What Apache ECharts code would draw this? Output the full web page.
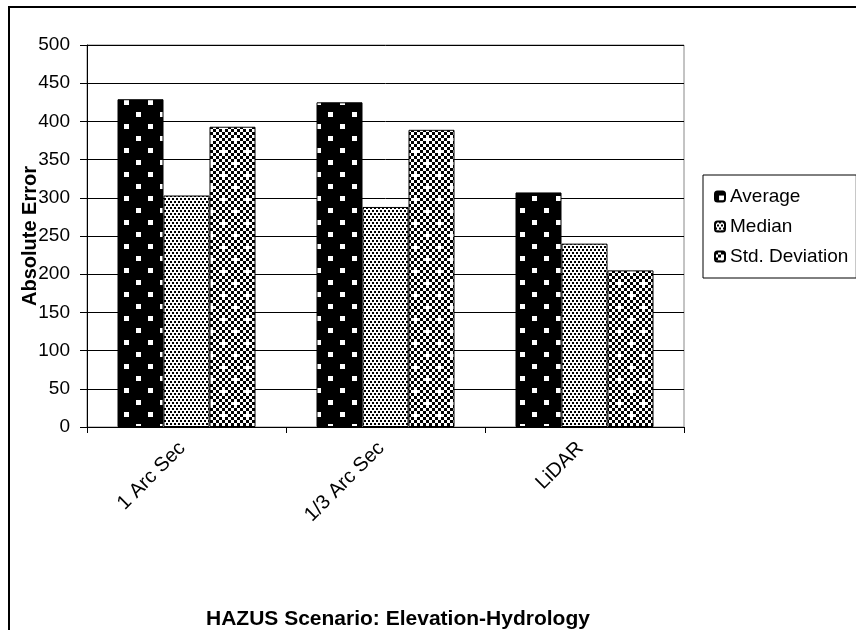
<!DOCTYPE html>
<html>
<head>
<meta charset="utf-8">
<script src="https://cdn.jsdelivr.net/npm/echarts@6/dist/echarts.min.js"></script>
<style>
    html, body { margin: 0; padding: 0; background: #fff; }
    #chart { width: 856px; height: 630px; }
</style>
</head>
<body>
<div id="chart"></div>
<script>
var categories = ['1 Arc Sec', '1/3 Arc Sec', 'LiDAR'];
var seriesNames = ['Average', 'Median', 'Std. Deviation'];
var average = [429, 425, 307];
var median = [303, 288, 240];
var stdDev = [393, 389, 205];
var yMin = 0, yMax = 500, yStep = 50;

var FONT = '"Liberation Sans", Arial, sans-serif';

// little canvas tiles to mimic the old excel fill patterns
function makeTile(kind) {
    var c = document.createElement('canvas');
    var ctx;
    if (kind == 'average') {
        c.width = 24; c.height = 24;
        ctx = c.getContext('2d');
        ctx.fillStyle = '#000';
        ctx.fillRect(0, 0, 24, 24);
        ctx.fillStyle = '#fff';
        ctx.fillRect(4, 4, 5, 5);
        ctx.fillRect(16, 16, 5, 5);
    } else if (kind == 'median') {
        c.width = 4; c.height = 6;
        ctx = c.getContext('2d');
        ctx.fillStyle = '#fff';
        ctx.fillRect(0, 0, 4, 6);
        ctx.fillStyle = '#000';
        ctx.fillRect(0, 0, 2, 2);
        ctx.fillRect(2, 3, 2, 2);
    } else {
        c.width = 24; c.height = 24;
        ctx = c.getContext('2d');
        ctx.fillStyle = '#fff';
        ctx.fillRect(0, 0, 24, 24);
        ctx.fillStyle = '#000';
        for (var i = 0; i < 8; i++) {
            for (var j = 0; j < 8; j++) {
                if ((i + j) % 2 == 0) {
                    // leave a white cross in two spots
                    if ((i == 2 && j == 2) || (i == 6 && j == 6)) continue;
                    ctx.fillRect(i * 3, j * 3, 3, 3);
                }
            }
        }
    }
    return c;
}

function patternOf(kind) {
    return { image: makeTile(kind), repeat: 'repeat' };
}

var fills = [patternOf('average'), patternOf('median'), patternOf('std')];
var values = [average, median, stdDev];

var series_arr = [];
for (var k = 0; k < seriesNames.length; k++) {
    series_arr.push({
        name: seriesNames[k],
        type: 'bar',
        data: values[k],
        barWidth: 46,
        barGap: '0%',
        itemStyle: {
            color: fills[k],
            borderColor: '#000',
            borderWidth: 1
        },
        emphasis: { disabled: true }
    });
}

var option = {
    animation: false,
    backgroundColor: '#fff',
    title: {
        text: 'HAZUS Scenario: Elevation-Hydrology',
        left: 201,
        top: 604,
        textStyle: { fontFamily: FONT, fontSize: 21, fontWeight: 'bold', color: '#000' }
    },
    legend: {
        data: seriesNames,
        orient: 'vertical',
        left: 703,
        top: 175,
        width: 152,
        padding: [12, 8, 12, 11],
        itemGap: 11,
        itemWidth: 10,
        itemHeight: 10,
        borderColor: '#000',
        borderWidth: 1,
        textStyle: { fontFamily: FONT, fontSize: 19, color: '#000' }
    },
    grid: {
        left: 87,
        right: 172,
        top: 45,
        bottom: 203,
        show: true,
        borderColor: '#888',
        borderWidth: 1,
        containLabel: false
    },
    xAxis: {
        type: 'category',
        data: categories,
        axisLine: { lineStyle: { color: '#000', width: 1 } },
        axisTick: { show: true, length: 6, lineStyle: { color: '#000' } },
        axisLabel: {
            rotate: 45,
            margin: 14,
            interval: 0,
            padding: [0, 6, 12, 0],
            fontFamily: FONT,
            fontSize: 20,
            color: '#000'
        }
    },
    yAxis: {
        type: 'value',
        min: yMin,
        max: yMax,
        interval: yStep,
        name: 'Absolute Error',
        nameLocation: 'middle',
        nameGap: 47,
        nameMoveOverlap: false,
        nameTextStyle: { fontFamily: FONT, fontSize: 20, fontWeight: 'bold', color: '#000' },
        axisLine: { show: true, lineStyle: { color: '#000', width: 1 } },
        axisTick: { show: true, length: 7, lineStyle: { color: '#000' } },
        axisLabel: { margin: 17, fontFamily: FONT, fontSize: 19, color: '#000' },
        splitLine: { show: true, lineStyle: { color: '#000', width: 1 } }
    },
    graphic: [{
        type: 'rect',
        shape: { x: 9, y: 7, width: 900, height: 700 },
        style: { fill: null, stroke: '#000', lineWidth: 2 },
        silent: true,
        z: 100
    }],
    series: series_arr
};

var myChart = echarts.init(document.getElementById('chart'));
myChart.setOption(option);
</script>
</body>
</html>
